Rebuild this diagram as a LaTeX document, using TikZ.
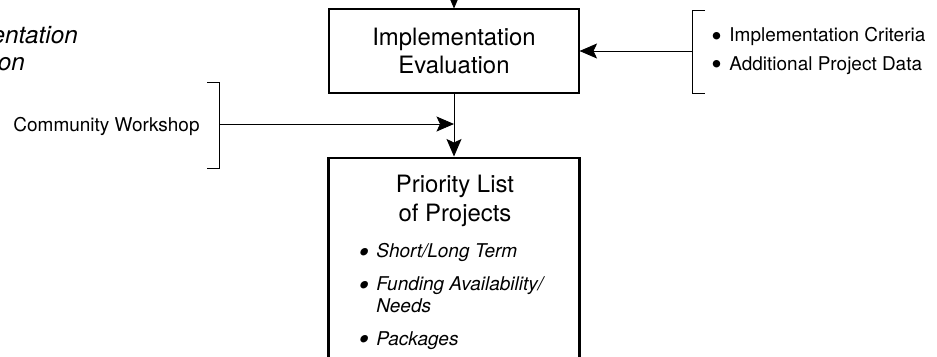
\documentclass[tikz,border=0pt]{standalone}
\usepackage{fontspec}
\setmainfont{TeX Gyre Heros}
\usetikzlibrary{arrows.meta,positioning}
\newcommand{\bul}{\makebox[0.95em][l]{\raisebox{-2.6pt}{\fontsize{17}{17}\selectfont\textbullet}}}

\begin{document}
\begin{tikzpicture}[
    evalbox/.style={draw,line width=0.6pt,minimum width=5cm,minimum height=1.68cm,align=center,font=\fontsize{13.6}{15.6}\selectfont},
    listbox/.style={draw,line width=1.7pt,minimum width=5.02cm,minimum height=4.4cm,anchor=north},
    head/.style={align=center,inner sep=0pt,font=\fontsize{13.6}{16.5}\selectfont},
    note/.style={align=left,inner sep=0pt,font=\fontsize{10.8}{12.2}\selectfont},
    arr/.style={-{Stealth[length=3.5mm,width=3mm,inset=0.7mm]},line width=0.5pt},
    brk/.style={line width=0.5pt}
]
\useasboundingbox (0,0) rectangle (18.74,-7.12);
\clip (0,0) rectangle (18.74,-7.12);

% phase title, runs off the left edge
\node[head,align=left,anchor=north west,font=\itshape\fontsize{13.8}{15.8}\selectfont] (phase) at (-1.76,-0.5) {Implementation\\Evaluation};

% boxes
\node[evalbox] (eval) at (9.08,-1.02) {Implementation\\Evaluation};
\node[listbox] (plist) at (9.08,-3.13) {};
\node[head,anchor=north] (plhead) at (9.1,-3.5) {Priority List\\of Projects};
\node[note,anchor=north west,font=\itshape\fontsize{10.8}{12}\selectfont] (plitems) at (7.16,-4.86)
    {\bul Short/Long Term\\[7pt]
     \bul Funding Availability/\\
     \hspace*{0.95em}Needs\\[7pt]
     \bul Packages};

% inputs
\node[note,anchor=north west] (criteria) at (14.22,-0.54)
    {\bul Implementation Criteria\\[4pt]
     \bul Additional Project Data};
\node[note,anchor=base] (workshop) at (2.13,-2.62) {Community Workshop};

% brackets
\draw[brk] (14.1,-0.2) -- (13.84,-0.2) -- (13.84,-1.86) -- (14.1,-1.86);
\draw[brk] (4.14,-1.64) -- (4.38,-1.64) -- (4.38,-3.36) -- (4.14,-3.36);
\coordinate (rbr) at (13.84,-1.02);
\coordinate (lbr) at (4.38,-2.48);
\coordinate (top) at (9.08,0.3);

% arrows
\draw[arr] (top) -- (eval.north);
\draw[arr] (rbr) -- (eval.east);
\draw[arr] (eval.south) -- (plist.north);
\draw[arr] (lbr) -- (eval.south |- lbr);
\end{tikzpicture}
\end{document}
